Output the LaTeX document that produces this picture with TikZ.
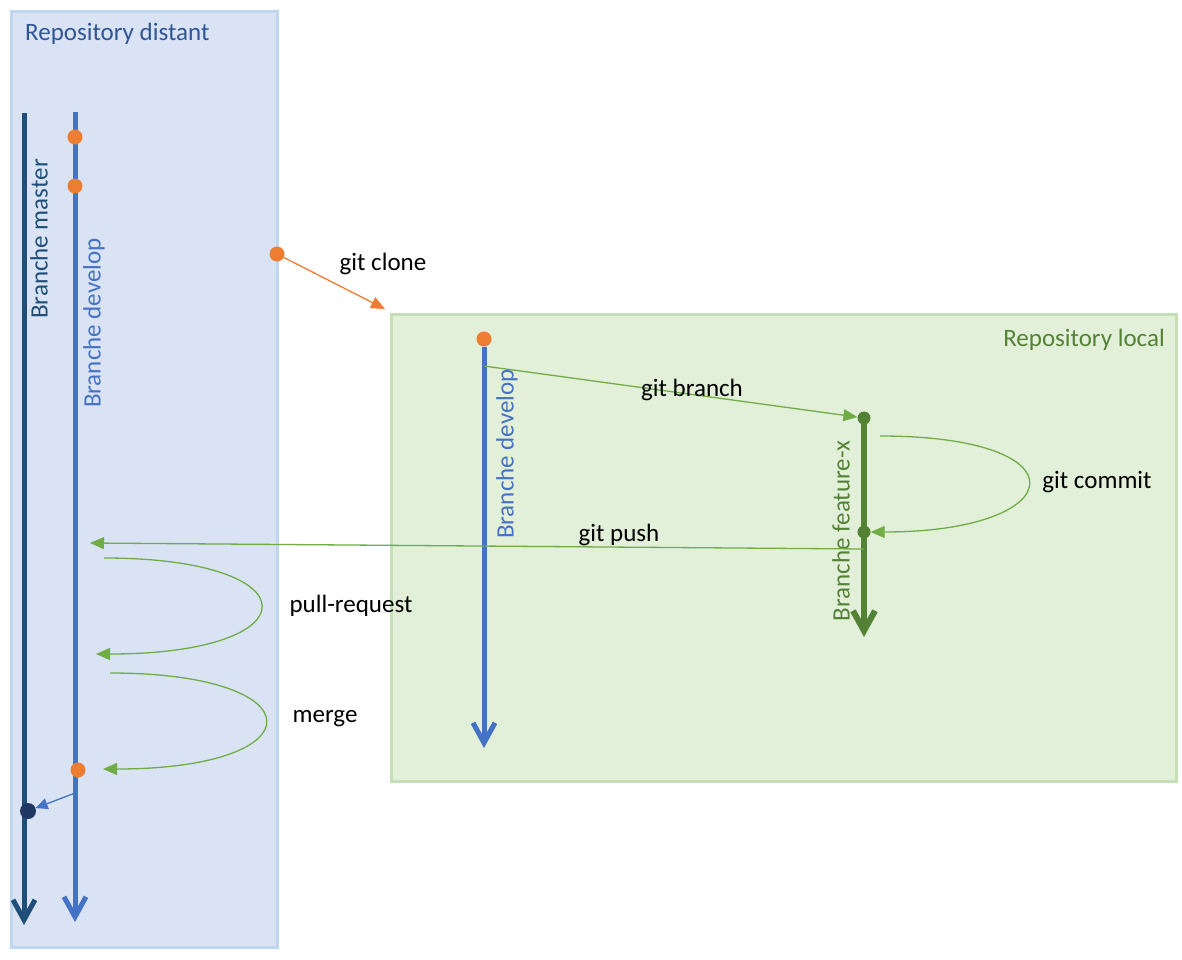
\documentclass[tikz,border=0pt]{standalone}
\usepackage{fontspec}
\setmainfont{Carlito}
\usetikzlibrary{arrows.meta}

\definecolor{remotefill}{HTML}{DAE3F3}
\definecolor{remoteline}{HTML}{BDD7EE}
\definecolor{localfill}{HTML}{E2F0D9}
\definecolor{localline}{HTML}{C5E0B4}
\definecolor{masterc}{HTML}{1F4E79}
\definecolor{developc}{HTML}{4472C4}
\definecolor{featurec}{HTML}{548235}
\definecolor{commitc}{HTML}{ED7D31}
\definecolor{navyc}{HTML}{203864}
\definecolor{cmdc}{HTML}{70AD47}
\definecolor{titlec}{HTML}{2F5597}

\begin{document}
\begin{tikzpicture}[x=1pt, y=-1pt, font=\fontsize{25}{30}\selectfont,
  repo/.style={line width=3pt, inner sep=0pt, anchor=north west},
  branch/.style={line width=5pt, -{Straight Barb[length=20pt, width=22pt]}},
  c/.style={circle, fill, inner sep=0pt, minimum size=15pt},
  cmd/.style={cmdc, line width=1.3pt, -{Triangle[length=14pt, width=12pt]}},
  lbl/.style={inner sep=0pt, text=black},
  blbl/.style={rotate=90, inner sep=0pt}]
  \useasboundingbox (0,0) rectangle (1182,960);

  % repositories
  \node [repo, fill=remotefill, draw=remoteline, minimum width=266pt, minimum height=936pt] (remote) at (10,10) {};
  \node [repo, fill=localfill, draw=localline, minimum width=785pt, minimum height=467pt] (local) at (390,313) {};
  \node [inner sep=0pt, anchor=west, text=titlec] (rtitle) at (25,34) {Repository distant};
  \node [inner sep=0pt, anchor=east, text=featurec] (ltitle) at (1165,340) {Repository local};

  % remote branches
  \coordinate (mtop) at (24,113);
  \coordinate (mend) at (24,925);
  \coordinate (dtop) at (75,112);
  \coordinate (dend) at (75,922);
  \draw [branch, masterc] (mtop) -- (mend);
  \draw [branch, developc] (dtop) -- (dend);
  \node [blbl, text=masterc] (mlabel) at (39,239) {Branche master};
  \node [blbl, text=developc] (dlabel) at (94,323) {Branche develop};
  \node [c, commitc] (d1) at (75,137) {};
  \node [c, commitc] (d2) at (75,186) {};
  \node [c, commitc] (d3) at (78,770) {};
  \node [c, navyc, minimum size=16pt] (m1) at (28,811) {};

  % local branches
  \node [c, commitc] (l1) at (484,339) {};
  \coordinate (lend) at (484,748);
  \draw [branch, developc] (l1.south) -- (lend);
  \node [blbl, text=developc] (llabel) at (507,454) {Branche develop};
  \node [c, featurec, minimum size=13pt] (f1) at (864,418) {};
  \node [c, featurec, minimum size=13pt] (f2) at (864,532) {};
  \coordinate (fend) at (864,637);
  \draw [branch, featurec, line width=6pt] (f1.center) -- (fend);
  \node [blbl, text=featurec] (flabel) at (841,531) {Branche feature-x};

  % commands
  \node [c, commitc] (cl) at (277,254) {};
  \coordinate (clend) at (385,309);
  \draw [cmd, commitc] (cl) -- (clend);
  \node [lbl] (clone) at (383,264) {git clone};

  \coordinate (bstart) at (484,366);
  \draw [cmd] (bstart) -- (f1);
  \node [lbl] (branch) at (692,390) {git branch};

  \coordinate (cstart) at (880,436);
  \draw [cmd] (cstart) .. controls +(207,0) and +(207,0) .. (f2);
  \node [lbl] (commit) at (1097,482) {git commit};

  \coordinate (pstart) at (864,549);
  \coordinate (pend) at (90,543);
  \draw [cmd] (pstart) -- (pend);
  \node [lbl] (push) at (619,535) {git push};

  \coordinate (prstart) at (104,558);
  \coordinate (prend) at (96,654);
  \draw [cmd] (prstart) .. controls +(210,0) and +(218,0) .. (prend);
  \node [lbl] (pull) at (351,606) {pull-request};

  \coordinate (mgstart) at (110,673);
  \coordinate (mgend) at (103,769);
  \draw [cmd] (mgstart) .. controls +(208,0) and +(215,0) .. (mgend);
  \node [lbl] (merge) at (325,719) {merge};

  \coordinate (mfrom) at (75,793);
  \draw [developc, line width=1.3pt, -{Triangle[length=12pt, width=11pt]}] (mfrom) -- (m1);
\end{tikzpicture}
\end{document}
